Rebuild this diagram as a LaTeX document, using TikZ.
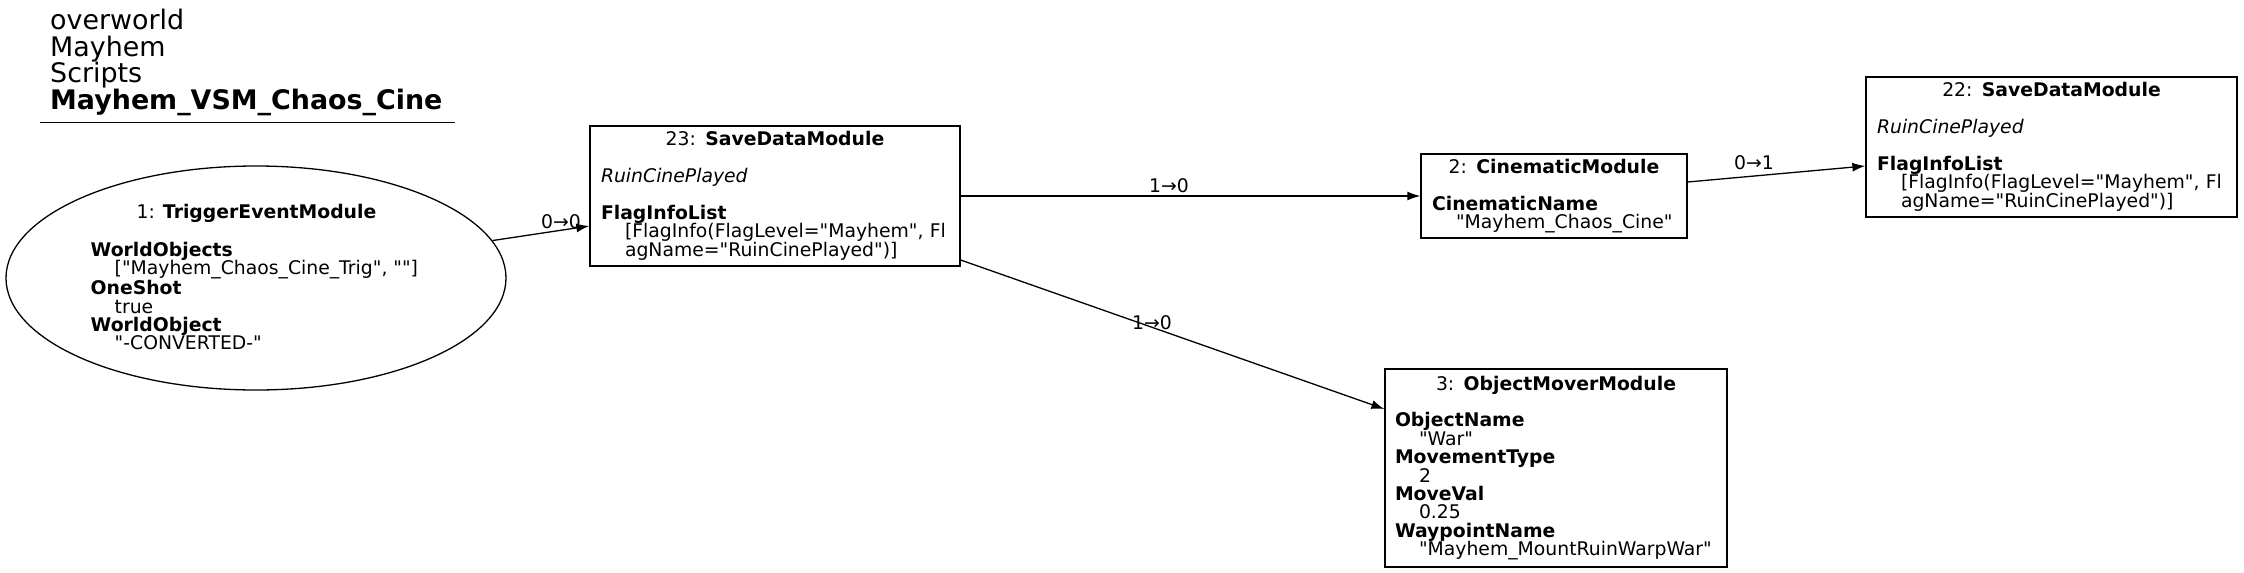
\documentclass[tikz,border=0pt]{standalone}
\usepackage{fontspec}
\setmainfont{DejaVu Sans}[Ligatures=TeXOff]
\usetikzlibrary{arrows.meta,shapes.geometric}
\newcommand{\ind}{\hspace*{24pt}}
\begin{document}
\begin{tikzpicture}[x=1pt,y=-1pt,
  every node/.style={font=\fontsize{18.8}{18.4}\selectfont},
  box/.style={draw, line width=1.3pt, rectangle, inner xsep=11pt, inner ysep=0pt, align=left},
  oval/.style={draw, line width=1.3pt, ellipse, inner sep=0pt},
  txt/.style={inner sep=0pt, align=left},
  lbl/.style={inner sep=0pt},
  edge/.style={line width=1.3pt, -{Latex[length=13pt,width=9pt]}},
  titlefont/.style={font=\fontsize{26.9}{26.7}\selectfont}]
\useasboundingbox (0,0) rectangle (2244,573);
\fill[white] (0,0) rectangle (2244,573);

% title
\node[txt, titlefont, anchor=base west] (title) at (50,109.5)
  {overworld\\Mayhem\\Scripts\\\textbf{Mayhem\_VSM\_Chaos\_Cine}};
\coordinate (ulA) at (40,122.5);
\coordinate (ulB) at (455,122.5);
\draw[line width=1.3pt] (ulA) -- (ulB);

% node 1
\node[oval, minimum width=500pt, minimum height=224pt] (n1) at (256,278) {};
\node[lbl, anchor=base] (n1title) at (256.5,218.5) {1: \textbf{TriggerEventModule}};
\node[txt, anchor=north west] (n1body) at (90.5,242)
  {\textbf{WorldObjects}\\\ind["Mayhem\_Chaos\_Cine\_Trig", ""]\\\textbf{OneShot}\\\ind true\\\textbf{WorldObject}\\\ind"-CONVERTED-"};

% node 23
\node[box, text width=348pt, minimum height=140pt] (n23) at (775,196)
  {\makebox[\hsize][c]{23: \textbf{SaveDataModule}}\\[18.4pt]
   \textit{RuinCinePlayed}\\[18.4pt]
   \textbf{FlagInfoList}\\
   \ind\mbox{[FlagInfo(FlagLevel="Mayhem", Fl}\\
   \ind agName="RuinCinePlayed")]};

% node 2
\node[box, text width=244pt, minimum height=84pt] (n2) at (1554,196)
  {\makebox[\hsize][c]{2: \textbf{CinematicModule}}\\[18.4pt]
   \textbf{CinematicName}\\
   \ind"Mayhem\_Chaos\_Cine"};

% node 22
\node[box, text width=349pt, minimum height=140pt] (n22) at (2051.5,147)
  {\makebox[\hsize][c]{22: \textbf{SaveDataModule}}\\[18.4pt]
   \textit{RuinCinePlayed}\\[18.4pt]
   \textbf{FlagInfoList}\\
   \ind\mbox{[FlagInfo(FlagLevel="Mayhem", Fl}\\
   \ind agName="RuinCinePlayed")]};

% node 3
\node[box, inner xsep=10pt, text width=322pt, minimum height=198pt] (n3) at (1556,468)
  {\makebox[\hsize][c]{3: \textbf{ObjectMoverModule}}\\[18.4pt]
   \textbf{ObjectName}\\
   \ind"War"\\
   \textbf{MovementType}\\
   \ind 2\\
   \textbf{MoveVal}\\
   \ind 0.25\\
   \textbf{WaypointName}\\
   \ind"Mayhem\_MountRuinWarpWar"};

% edges
\draw[edge] (n1.9) -- ([yshift=-30pt]n23.west);
\draw[edge] (n23.east) -- (n2.west);
\draw[edge] ([yshift=14pt]n2.east) -- ([yshift=-19pt]n22.west);
\draw[edge] ([yshift=-64pt]n23.east) -- ([yshift=59pt]n3.west);

% edge labels
\node[lbl] (l1) at (561,222) {0→0};
\node[lbl] (l2) at (1169,186) {1→0};
\node[lbl] (l3) at (1754,163) {0→1};
\node[lbl] (l4) at (1152,323) {1→0};
\end{tikzpicture}
\end{document}
